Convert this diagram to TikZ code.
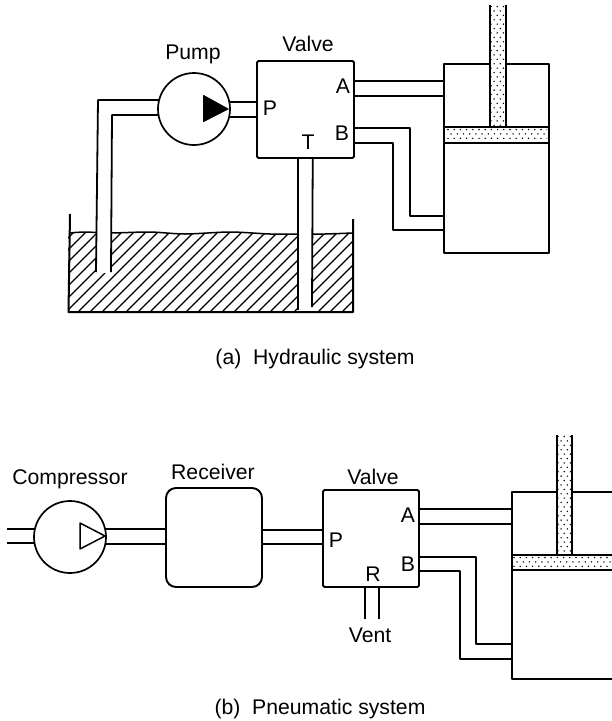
\documentclass[tikz,border=0pt]{standalone}
\usepackage{fontspec}
\setmainfont{Liberation Sans}
\usetikzlibrary{backgrounds,calc}
\tikzset{
  label text/.style={font=\fontsize{21.2}{24}\selectfont,inner sep=0pt,yshift=-1.5pt},
  caption text/.style={font=\fontsize{21.2}{24}\selectfont,inner sep=0pt,yshift=-2pt},
  machine/.style={circle,draw=black,fill=white,line width=1.7pt,minimum size=72pt,inner sep=0pt},
  box/.style={rectangle,draw=black,fill=white,line width=1.9pt,rounded corners=1.5pt,inner sep=0pt},
  pipe/.style={draw=black,line width=1.8pt,line join=round},
  wall/.style={draw=black,line width=2pt,line join=round},
  hatchline/.style={draw=black,line width=1.3pt},
}
\newcommand{\stippled}[4]{%
  \begin{scope}
    \clip (#1,#2) rectangle (#3,#4);
    \fill[white] (#1,#2) rectangle (#3,#4);
    \foreach \i in {0,...,18}{\foreach \j in {0,...,30}{%
      \fill[black] ({#1+1+\i*6.2+mod(\j,2)*3.1},{#2+1.5+\j*4.4}) circle (0.8pt);}}
  \end{scope}}
\begin{document}
\begin{tikzpicture}[x=1pt,y=-1pt]
\useasboundingbox (0,0) rectangle (612,721);

% ---------- (a) hydraulic
\node[machine] (pump) at (194,109) {};
\node[box,minimum width=97pt,minimum height=97pt] (valveA) at (305.5,109.5) {};
\node[box,draw=none,fill=none,minimum width=103pt,minimum height=187pt] (cylA) at (496.5,158.5) {};

\begin{pgfonlayer}{background}
  % reservoir hatching
  \begin{scope}
    \clip plot[smooth] coordinates {(68,233) (85,232) (110,233) (150,232) (185,234) (230,232) (270,234) (298,234) (325,234) (353,233)} -- (353,312) -- (68,312) -- cycle;
    \foreach \x in {-30,-18,...,354}{
      \draw[hatchline] (\x,312) -- ++(90,-90);
    }
  \end{scope}
  \draw[line width=1.5pt] plot[smooth] coordinates {(70,233) (85,232) (110,233) (150,232) (185,234) (230,232) (270,234) (298,234) (325,234) (352,233)};
  \fill[white] (97,200) rectangle (111,273);
  \fill[white] (299,158) rectangle (312,311);
\end{pgfonlayer}

\coordinate (suctionOut) at (96,272);
\coordinate (suctionIn) at (111,272);
\coordinate (drainOut) at (298,310);
\coordinate (drainIn) at (312,307);
\begin{pgfonlayer}{background}
  \draw[pipe] (pump.center |- 0,100) -- (98,100) -- (suctionOut);
  \draw[pipe] (pump.center |- 0,115) -- (112,115) -- (suctionIn);
  \draw[pipe] (pump.center |- 0,102) -- (valveA.center |- 0,102);
  \draw[pipe] (pump.center |- 0,117) -- (valveA.center |- 0,117);
  \draw[pipe] (valveA.center -| 298,0) -- (drainOut);
  \draw[pipe] (valveA.center -| 313,0) -- (drainIn);
  \draw[pipe] (valveA.center |- 0,81) -- (cylA.center |- 0,81);
  \draw[pipe] (valveA.center |- 0,96) -- (cylA.center |- 0,96);
  \draw[pipe] (valveA.center |- 0,128) -- (410,128) -- (410,216) -- (cylA.center |- 0,216);
  \draw[pipe] (valveA.center |- 0,143) -- (393,143) -- (393,230) -- (cylA.center |- 0,230);
\end{pgfonlayer}

\draw[wall] (70,214) -- (68.5,312) -- (353,312) -- (353,219);

% cylinder (a)
\fill[white] (cylA.north west) rectangle (cylA.south east);
\draw[wall] (cylA.north west) -- (cylA.north east) -- (cylA.south east) -- (cylA.south west) -- cycle;
\stippled{447}{128}{547}{142}
\draw[wall] (cylA.west |- 0,127) -- (cylA.east |- 0,127);
\draw[wall] (cylA.west |- 0,143) -- (cylA.east |- 0,143);
\coordinate (rodAtopL) at (490,5);
\coordinate (rodAtopR) at (506,5);
\stippled{490}{5}{506}{126}
\draw[wall] (rodAtopL) -- (490,127);
\draw[wall] (rodAtopR) -- (506,127);

% pump arrow
\fill[black,draw=black,line width=1pt,line join=round] (203.5,95.5) -- (228,109) -- (203.5,121.5) -- cycle;

\node[label text] (tPump) at (193,53) {Pump};
\node[label text] (tValveA) at (308,42) {Valve};
\node[label text] (tP) at (270,107) {P};
\node[label text] (tT) at (308,141) {T};
\node[label text] (tA) at (343,85) {A};
\node[label text] (tB) at (342,132) {B};
\node[caption text] (capA) at (315,357) {(a)\ \ Hydraulic system};

% ---------- (b) pneumatic
\node[machine] (comp) at (70,537) {};
\node[box,rounded corners=10pt,minimum width=96pt,minimum height=99pt] (recv) at (214,537.5) {};
\node[box,minimum width=96pt,minimum height=97pt] (valveB) at (371,538.5) {};

\coordinate (inU) at (7,529);
\coordinate (inL) at (7,543);
\coordinate (ventL) at (365,619);
\coordinate (ventR) at (379,619);
\coordinate (cylB) at (512,492);
\begin{pgfonlayer}{background}
  \draw[pipe] (inU) -- (comp.center |- inU);
  \draw[pipe] (inL) -- (comp.center |- inL);
  \draw[pipe] (comp.center |- 0,529) -- (recv.center |- 0,529);
  \draw[pipe] (comp.center |- 0,544) -- (recv.center |- 0,544);
  \draw[pipe] (recv.center |- 0,530) -- (valveB.center |- 0,530);
  \draw[pipe] (recv.center |- 0,544) -- (valveB.center |- 0,544);
  \draw[pipe] (valveB.center -| ventL) -- (ventL);
  \draw[pipe] (valveB.center -| ventR) -- (ventR);
  \draw[pipe] (valveB.center |- 0,509) -- (cylB |- 0,509);
  \draw[pipe] (valveB.center |- 0,524) -- (cylB |- 0,524);
  \draw[pipe] (valveB.center |- 0,557) -- (476,557) -- (476,644) -- (cylB |- 0,644);
  \draw[pipe] (valveB.center |- 0,571) -- (460,571) -- (460,659) -- (cylB |- 0,659);
\end{pgfonlayer}

% cylinder (b), running off the right edge
\draw[wall] (612,492) -- (cylB) -- (512,679) -- (612,679);
\stippled{513}{556}{612}{569}
\draw[wall] (512,555) -- (612,555);
\draw[wall] (512,570) -- (612,570);
\stippled{557}{435}{572}{554}
\draw[wall] (557,435) -- (557,555);
\draw[wall] (572,435) -- (572,555);

% compressor arrow
\draw[black,fill=white,line width=1.5pt,line join=round] (80,523) -- (105,536) -- (80,549) -- cycle;

\node[label text] (tComp) at (70,478) {Compressor};
\node[label text] (tRecv) at (213,470) {Receiver};
\node[label text] (tValveB) at (373,475) {Valve};
\node[label text] (tPb) at (336,539) {P};
\node[label text] (tR) at (373,573) {R};
\node[label text] (tAb) at (408,514) {A};
\node[label text] (tBb) at (408,563) {B};
\node[label text] (tVent) at (370,634) {Vent};
\node[caption text] (capB) at (320,707) {(b)\ \ Pneumatic system};
\end{tikzpicture}
\end{document}
